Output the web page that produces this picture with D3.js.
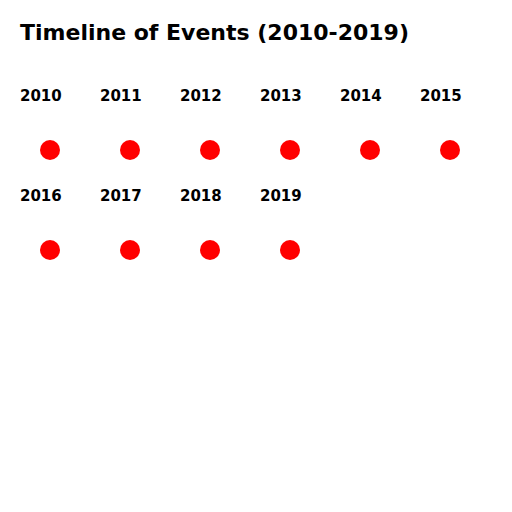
<!DOCTYPE html>
<html>
<head>
<meta charset="utf-8">
<script src="https://cdn.jsdelivr.net/npm/d3@7"></script>
<style>
  body { margin: 0; background: #fff; }
  text { font-family: "DejaVu Sans", sans-serif; font-weight: bold; }
</style>
</head>
<body>
<div id="chart"></div>
<script>
var years = [2010, 2011, 2012, 2013, 2014, 2015, 2016, 2017, 2018, 2019];
var title = 'Timeline of Events (2010-2019)';

var width = 512, height = 512;
var perRow = 6;

var svg = d3.select('#chart').append('svg')
  .attr('width', width)
  .attr('height', height);

svg.append('text')
  .attr('x', 20)
  .attr('y', 40)
  .style('font-size', '22px')
  .text(title);

var x = d3.scaleLinear().domain([0, 1]).range([20, 100]);
var y = d3.scaleLinear().domain([0, 1]).range([100, 200]);

var items = svg.selectAll('g.event').data(years)
  .enter().append('g')
  .classed('event', true)
  .attr('transform', function(d, i) {
    return 'translate(' + x(i % perRow) + ',' + y(Math.floor(i / perRow)) + ')';
  });

items.append('text')
  .attr('x', 0)
  .attr('y', 1)
  .style('font-size', '15px')
  .text(function(d) { return d; });

items.append('circle')
  .attr('cx', 30)
  .attr('cy', 50)
  .attr('r', 10)
  .attr('fill', 'red');
</script>
</body>
</html>
